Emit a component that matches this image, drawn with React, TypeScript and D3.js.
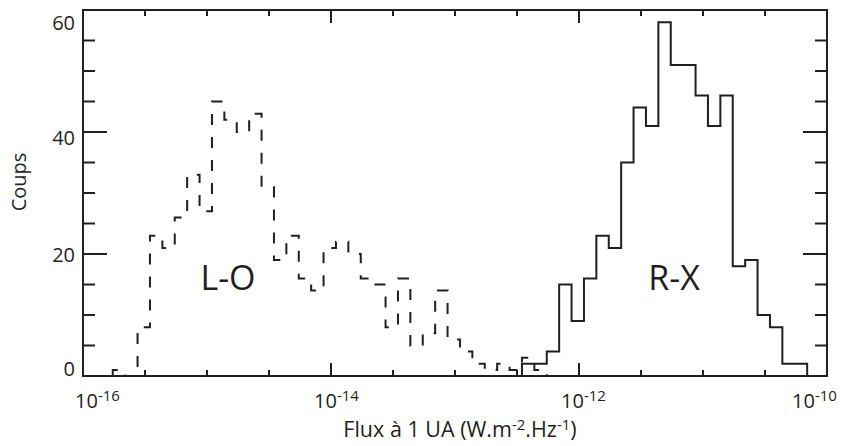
import React from "react";
import * as d3 from "d3";

// ---- data (log10 of flux bin starts, counts per 0.1-decade bin) ----
const loStart = -15.76;
const loCounts = [1, 0, 8, 23, 21, 26, 33, 27, 45, 42, 40, 43, 31, 19, 23, 16, 14, 21, 22, 20, 16, 15, 8, 16, 5, 7, 14, 6, 4, 2, 1, 2, 1, 3, 1];
const rxStart = -12.46;
const rxCounts = [2, 2, 4, 15, 9, 16, 23, 21, 35, 44, 41, 58, 51, 51, 46, 41, 46, 18, 19, 10, 8, 2, 2];
const binWidth = 0.1;

const xMajorExps = [-16, -14, -12, -10];
const xMajorLabels = ["-16", "-14", "-12", "-10"];
const xLabelDx = [-8, -17, -18, -35];
const yMajor = [0, 20, 40, 60];
const yLabelBaselines = [376, 262, 145, 30];

const W = 842, H = 446;
const left = 83, right = 827, top = 10, bottom = 376;
const ink = "#231f20";
const font = "'Open Sans', 'Noto Sans', sans-serif";

export default function App() {
  const x = d3.scaleLog().domain([1e-16, 1e-10]).range([left, right]);
  const y = d3.scaleLinear().domain([0, 60]).range([bottom, top]);

  const histPath = (start: number, counts: number[]) => {
    const pts: [number, number][] = [];
    const e0 = Math.pow(10, start);
    pts.push([x(e0), y(0)]);
    counts.forEach((c, i) => {
      const a = Math.pow(10, start + i * binWidth);
      const b = Math.pow(10, start + (i + 1) * binWidth);
      pts.push([x(a), y(c)]);
      pts.push([x(b), y(c)]);
    });
    const eN = Math.pow(10, start + counts.length * binWidth);
    pts.push([x(eN), y(0)]);
    return d3.line()(pts) || "";
  };

  const xTickExps = d3.range(-16, -9.99, 0.5);
  const yTicks = d3.range(0, 60.01, 5);

  return (
    <svg width={W} height={H} style={{ position: "absolute", left: 0, top: 0, background: "#fff" }}>
      <rect x={0} y={0} width={W} height={H} fill="#fff" />
      {/* histograms */}
      <path d={histPath(loStart, loCounts)} fill="none" stroke={ink} strokeWidth={2} strokeDasharray="11 12" />
      <path d={histPath(rxStart, rxCounts)} fill="none" stroke={ink} strokeWidth={2} />

      {/* x ticks (bottom + top) */}
      {xTickExps.map((e, i) => {
        const major = Math.abs(e % 2) < 1e-9;
        const len = major ? 13 : 6;
        const px = x(Math.pow(10, e));
        return (
          <g key={"xt" + i}>
            <line x1={px} x2={px} y1={bottom} y2={bottom - len} stroke={ink} strokeWidth={2} />
            <line x1={px} x2={px} y1={top} y2={top + len} stroke={ink} strokeWidth={2} />
          </g>
        );
      })}
      {/* y ticks (left + right) */}
      {yTicks.map((v, i) => {
        const major = v % 20 === 0;
        const len = major ? 24 : 12;
        const py = y(v);
        return (
          <g key={"yt" + i}>
            <line x1={left} x2={left + len} y1={py} y2={py} stroke={ink} strokeWidth={2} />
            <line x1={right} x2={right - len} y1={py} y2={py} stroke={ink} strokeWidth={2} />
          </g>
        );
      })}
      {/* frame */}
      <rect x={left} y={top} width={right - left} height={bottom - top} fill="none" stroke={ink} strokeWidth={2} />

      {/* x tick labels */}
      {xMajorExps.map((e, i) => (
        <text key={"xl" + i} x={x(Math.pow(10, e)) + xLabelDx[i]} y={408} fontFamily={font} fontSize={20} fill={ink}>
          10<tspan fontSize={15} dy={-7}>{xMajorLabels[i]}</tspan>
        </text>
      ))}
      {/* y tick labels */}
      {yMajor.map((v, i) => (
        <text key={"yl" + i} x={75} y={yLabelBaselines[i]} textAnchor="end" fontFamily={font} fontSize={20} fill={ink}>
          {v}
        </text>
      ))}

      {/* axis titles */}
      <text x={460} y={437} textAnchor="middle" fontFamily={font} fontSize={21.5} fill={ink}>
        Flux à 1 UA (W.m<tspan fontSize={15} dy={-7}>-2</tspan><tspan dy={7}>.Hz</tspan><tspan fontSize={15} dy={-7}>-1</tspan><tspan dy={7}>)</tspan>
      </text>
      <text transform={`translate(26,${182}) rotate(-90)`} textAnchor="middle" fontFamily={font} fontSize={20} fill={ink}>
        Coups
      </text>

      {/* series labels */}
      <text x={228} y={290} textAnchor="middle" fontFamily={font} fontSize={34} fill={ink}>L-O</text>
      <text x={674} y={290} textAnchor="middle" fontFamily={font} fontSize={34} fill={ink}>R-X</text>
    </svg>
  );
}
